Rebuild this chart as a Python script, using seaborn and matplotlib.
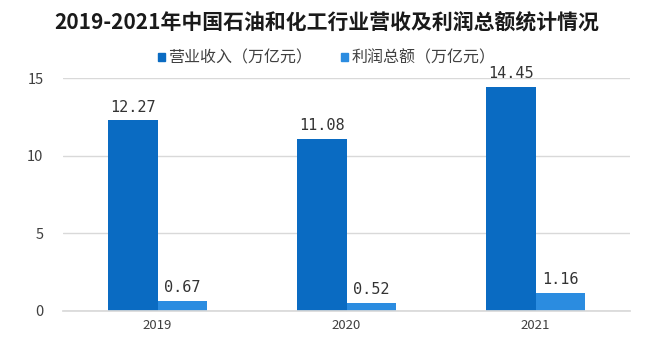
import matplotlib
matplotlib.use("Agg")
import matplotlib.pyplot as plt
import seaborn as sns
import pandas as pd
from matplotlib.patches import Patch

years = ["2019", "2020", "2021"]
revenue = [12.27, 11.08, 14.45]
profit = [0.67, 0.52, 1.16]
series_names = ["营业收入（万亿元）", "利润总额（万亿元）"]
title = "2019-2021年中国石油和化工行业营收及利润总额统计情况"

df = pd.DataFrame({
    "year": years * 2,
    "value": revenue + profit,
    "series": [series_names[0]] * 3 + [series_names[1]] * 3,
})

sns.set_theme(style="white")
plt.rcParams["font.family"] = ["Noto Sans CJK SC", "DejaVu Sans"]

fig = plt.figure(figsize=(6.53, 3.47), dpi=100)
ax = fig.add_axes([63 / 653, 1 - 311 / 347, (630 - 63) / 653, (311 - 78) / 347])

palette = {series_names[0]: "#0A6BC2", series_names[1]: "#2B8CE0"}
sns.barplot(data=df, x="year", y="value", hue="series", palette=palette,
            width=0.52, ax=ax, legend=False, saturation=1, linewidth=0)

for cont in ax.containers:
    ax.bar_label(cont, labels=[f"{v:.2f}" for v in cont.datavalues],
                 padding=4, fontsize=11, color="#333333",
                 family=["DejaVu Sans Mono"])

ax.set_xlim(-0.5, 2.5)
ax.set_ylim(0, 15)
ax.set_yticks([0, 5, 10, 15])
ax.yaxis.grid(True, color="#D9D9D9", linewidth=1)
ax.set_axisbelow(True)
for s in ["top", "right", "left"]:
    ax.spines[s].set_visible(False)
ax.spines["bottom"].set_color("#D9D9D9")
ax.set_xlabel("")
ax.set_ylabel("")
ax.tick_params(axis="y", labelsize=10.5, colors="#404040", length=0, pad=14)
ax.tick_params(axis="x", labelsize=9.5, colors="#404040", length=0, pad=6)

handles = [Patch(color=palette[n]) for n in series_names]
fig.legend(handles, series_names, loc="center", bbox_to_anchor=(0.5, 1 - 58 / 347),
           ncol=2, frameon=False, fontsize=11.5, handlelength=0.45, handleheight=0.45,
           handletextpad=0.2, columnspacing=1.8, labelcolor="#404040")

fig.text(0.5, 1 - 22 / 347, title, ha="center", va="center", fontsize=15,
         fontweight="bold", color="#1a1a1a")

fig.savefig("out.png", dpi=100, facecolor="white")
